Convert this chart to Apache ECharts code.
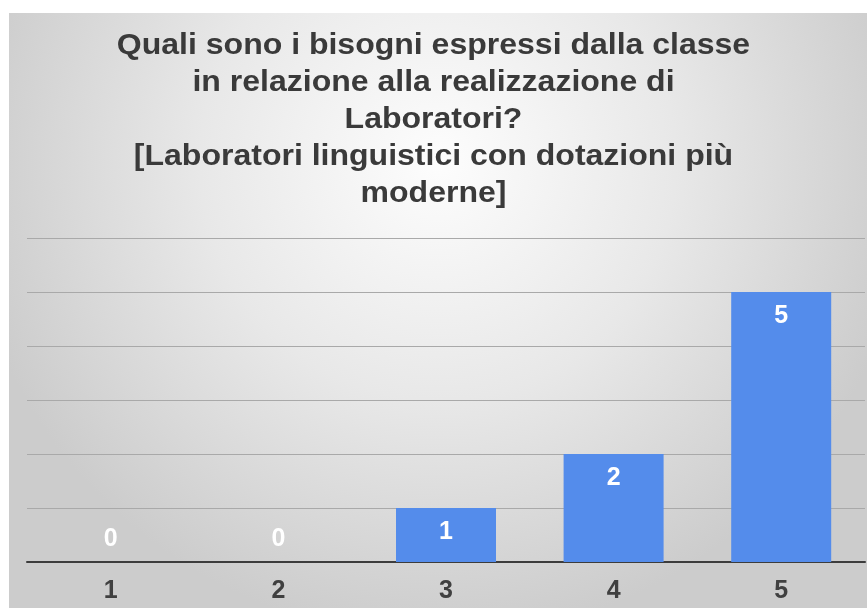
<!DOCTYPE html>
<html>
<head>
<meta charset="utf-8">
<script src="https://cdn.jsdelivr.net/npm/echarts@6/dist/echarts.min.js"></script>
<style>
html,body{margin:0;padding:0;background:#fff;}
#c{width:867px;height:608px;}
</style>
</head>
<body>
<div id="c"></div>
<script>
var titleLines = ["Quali sono i bisogni espressi dalla classe", "in relazione alla realizzazione di", "Laboratori?", "[Laboratori linguistici con dotazioni più", "moderne]"];
var categories = ["1", "2", "3", "4", "5"];
var values = [0, 0, 1, 2, 5];
var yTicks = [0, 1, 2, 3, 4, 5, 6];

var FONT = 'Liberation Sans, Arial, sans-serif';
var chart = echarts.init(document.getElementById('c'), null, {renderer: 'canvas'});
var option = {
  backgroundColor: '#ffffff',
  animation: false,
  graphic: [{
    type: 'rect',
    left: 9, top: 13, z: -10,
    shape: {width: 858, height: 595},
    style: {
      fill: new echarts.graphic.RadialGradient(0.5, 0.25, 0.8, [
        {offset: 0, color: '#fdfdfd'},
        {offset: 0.5, color: '#e8e8e8'},
        {offset: 1, color: '#cccccc'}
      ])
    },
    silent: true
  }, {
    type: 'text',
    x: 433.5, y: 27,
    scaleX: 1.067,
    z: 10,
    style: {
      text: titleLines.join('\n'),
      textAlign: 'center',
      textVerticalAlign: 'top',
      fontFamily: FONT,
      fontWeight: 'bold',
      fontSize: 30,
      lineHeight: 37,
      fill: '#3a3a3a'
    },
    silent: true
  }],
  grid: {left: 27, right: 2, top: 238, bottom: 46, containLabel: false},
  xAxis: {
    type: 'category',
    data: categories,
    axisLine: {lineStyle: {color: '#3c3c3c', width: 2}},
    axisTick: {show: false},
    axisLabel: {
      margin: 17,
      fontFamily: FONT,
      fontSize: 25,
      fontWeight: 'bold',
      color: '#404040'
    }
  },
  yAxis: {
    type: 'value',
    min: yTicks[0],
    max: yTicks[yTicks.length - 1],
    interval: 1,
    axisLine: {show: false},
    axisTick: {show: false},
    axisLabel: {show: false},
    splitLine: {lineStyle: {color: '#a9a9a9', width: 1}}
  },
  series: [{
    type: 'bar',
    data: values.map(function (v) {
      return {
        value: v,
        label: v === 0 ? {position: 'top', distance: 10} : {position: 'insideTop', distance: 12}
      };
    }),
    barWidth: 100,
    itemStyle: {color: '#548ceb'},
    label: {
      show: true,
      color: '#ffffff',
      fontFamily: FONT,
      fontWeight: 'bold',
      fontSize: 25
    }
  }]
};
chart.setOption(option);
</script>
</body>
</html>
